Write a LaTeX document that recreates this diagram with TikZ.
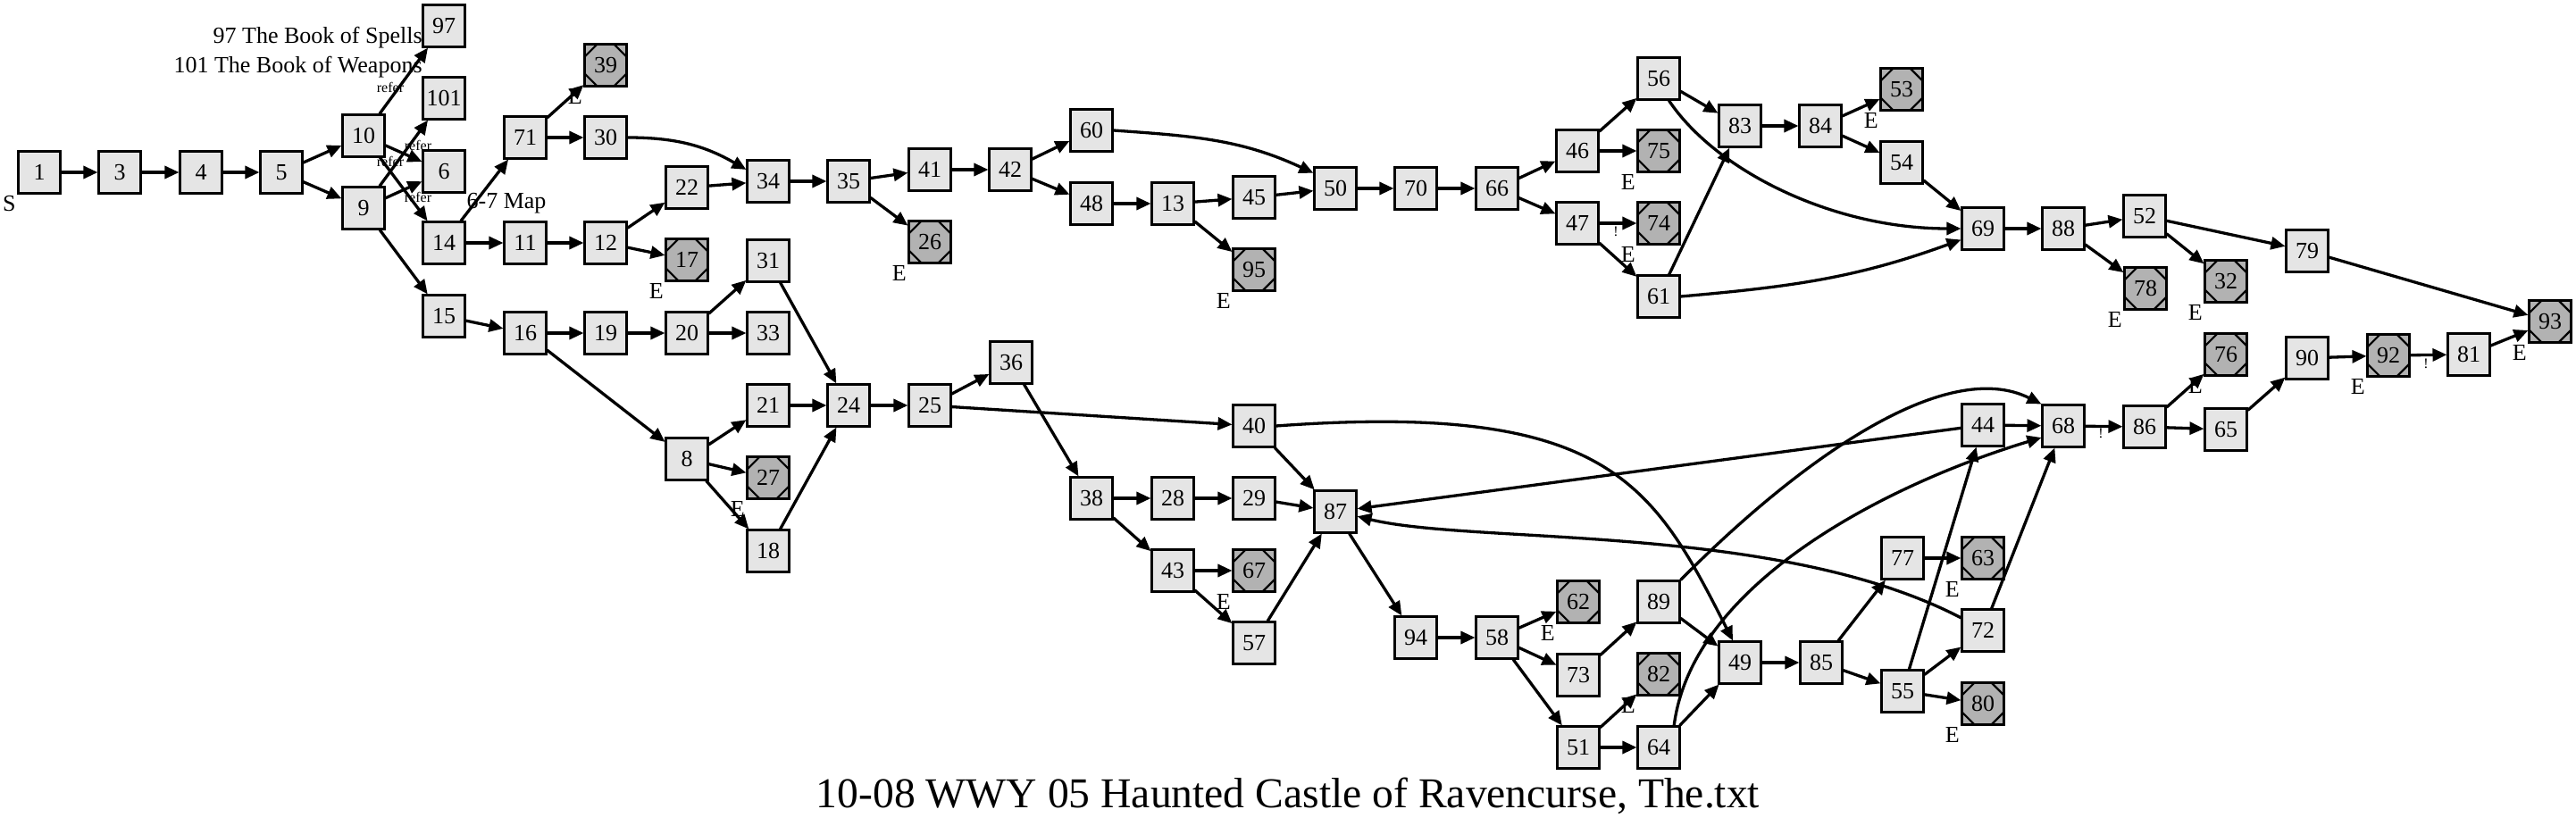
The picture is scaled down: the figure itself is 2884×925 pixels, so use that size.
\documentclass[tikz,border=0pt]{standalone}
\usepackage{fontspec}
\setmainfont{Liberation Serif}
\usetikzlibrary{arrows.meta}

\definecolor{roomgray}{gray}{0.9}
\definecolor{endgray}{gray}{0.7}

\tikzset{
  room/.style={draw=black, fill=roomgray, line width=1.35pt, minimum size=23.2pt,
    inner sep=0pt, font=\fontsize{13}{15}\selectfont},
  deadend/.style={room, fill=endgray,
    path picture={\draw[line width=1.1pt] (path picture bounding box.center) +(22.5:12.6pt)
      \foreach \a in {67.5,112.5,...,337.5} {-- +(\a:12.6pt)} -- cycle;},
    label={[elab]below left:E}},
  elab/.style={inner sep=0pt, label distance=1pt, font=\fontsize{13}{15}\selectfont},
  link/.style={line width=1.65pt, -{Triangle[length=8pt,width=7pt]}},
  tiny/.style={font=\fontsize{8}{9}\selectfont, inner sep=0pt}
}

\begin{document}
\begin{tikzpicture}[x=0.5pt, y=0.5pt]
\useasboundingbox (0,0) rectangle (2884,-925);

% Stanze
\node[room, label={[elab]below left:S}] (n1) at (44,-193) {1};
\foreach \n/\x/\y in {3/134/193, 4/225/193, 5/315/193, 10/407/152, 9/407/233,
    97/497/29, 101/497/110, 6/497/192, 14/497/272, 15/497/354, 71/588/154,
    30/678/154, 11/588/272, 12/678/272, 22/769/210, 34/860/203, 35/950/203,
    41/1041/190, 42/1131/190, 60/1222/146, 48/1222/228, 13/1313/228,
    45/1404/221, 50/1495/211, 70/1585/211, 66/1676/211, 46/1766/169,
    47/1766/250, 56/1857/88, 61/1857/332, 83/1948/141, 84/2038/141,
    54/2129/182, 69/2220/256, 88/2310/256, 52/2401/242, 79/2583/281,
    16/588/373, 19/678/373, 20/769/373, 31/860/292, 33/860/373, 21/860/454,
    8/769/514, 18/860/617, 24/950/454, 25/1041/454, 36/1132/406, 40/1404/477,
    38/1222/558, 28/1313/558, 29/1404/558, 87/1495/573, 43/1313/639,
    57/1404/720, 94/1585/714, 58/1676/714, 73/1767/756, 51/1767/837,
    89/1857/674, 64/1857/837, 49/1948/742, 85/2039/742, 77/2130/625,
    55/2130/774, 72/2220/706, 44/2220/476, 68/2310/477, 86/2401/478,
    65/2492/481, 90/2583/401, 81/2764/397}
  \node[room] (n\n) at (\x,-\y) {\n};

% Finali
\foreach \n/\x/\y in {39/678/73, 17/769/291, 26/1041/271, 95/1404/302,
    75/1857/169, 74/1857/250, 53/2129/100, 78/2402/323, 32/2492/315,
    93/2855/360, 27/860/535, 67/1404/639, 62/1767/674, 82/1857/755,
    63/2220/625, 80/2220/788, 76/2492/397, 92/2674/398}
  \node[deadend] (n\n) at (\x,-\y) {\n};

% Collegamenti
\foreach \a/\b in {1/3, 3/4, 4/5, 5/10, 5/9, 10/97, 10/6, 10/14, 9/101, 9/6,
    9/15, 14/71, 14/11, 71/39, 71/30, 11/12, 12/22, 12/17, 22/34, 34/35,
    35/41, 35/26, 41/42, 42/60, 42/48, 48/13, 13/45, 13/95, 45/50, 50/70,
    70/66, 66/46, 66/47, 46/56, 46/75, 47/74, 47/61, 56/83, 61/83, 83/84,
    84/53, 84/54, 54/69, 69/88, 88/52, 88/78, 52/32, 52/79, 79/93,
    15/16, 16/19, 19/20, 20/31, 20/33, 16/8, 31/24, 8/21, 8/27, 8/18,
    21/24, 18/24, 24/25, 25/36, 25/40, 36/38, 38/28, 38/43, 28/29, 29/87,
    43/67, 43/57, 57/87, 40/87, 87/94, 94/58, 58/62, 58/73, 58/51, 73/89,
    89/49, 51/82, 51/64, 64/49, 49/85, 85/77, 85/55, 77/63, 55/44, 55/72,
    55/80, 72/68, 44/87, 44/68, 68/86, 86/76, 86/65, 65/90, 90/92, 92/81,
    81/93}
  \draw[link] (n\a) -- (n\b);

% Curve
\draw[link] (n30.east) to[out=0, in=150] (n34.152);
\draw[link] (n60.east) to[out=-4, in=155] (n50.145);
\draw[link] (n56.-65) .. controls (1920,-190) and (2050,-256) .. (n69.west);
\draw[link] (n61.east) to[out=5, in=200] (n69.207);
\draw[link] (n40.east) .. controls (1800,-450) and (1850,-540) .. (n49.108);
\draw[link] (n89.45) .. controls (2020,-510) and (2180,-400) .. (n68.north west);
\draw[link] (n64.55) .. controls (1895,-650) and (2120,-540) .. (n68.208);
\draw[link] (n72.150) .. controls (1990,-585) and (1650,-610) .. (n87.-12);

% Etichette
\node[align=right, anchor=north east, inner sep=0pt,
  font=\fontsize{13}{16.5}\selectfont] (books) at (473,-30)
  {97 The Book of Spells\\101 The Book of Weapons};
\foreach \x/\y [count=\i] in {437/98, 468/163, 437/181, 468/221}
  \node[tiny] (refer\i) at (\x,-\y) {refer};
\foreach \x/\y [count=\i] in {1809/259, 2352/485, 2716/407}
  \node[tiny] (bang\i) at (\x,-\y) {!};
\node[inner sep=0pt, font=\fontsize{13}{15}\selectfont] (map) at (567,-228) {6-7 Map};

% Titolo
\node[anchor=base, font=\fontsize{23.8}{28}\selectfont] (title) at (1442,-904)
  {10-08 WWY 05 Haunted Castle of Ravencurse, The.txt};
\end{tikzpicture}
\end{document}
